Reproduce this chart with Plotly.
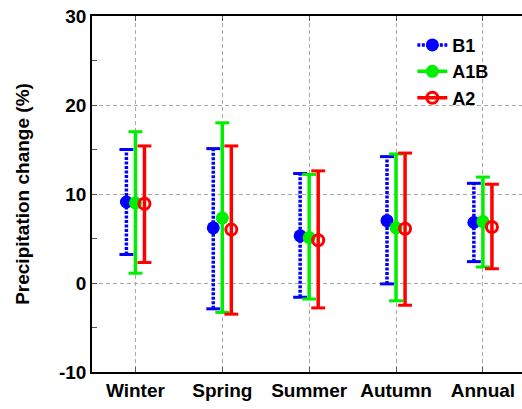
import plotly.graph_objects as go

categories = ["Winter", "Spring", "Summer", "Autumn", "Annual"]

b1_mid = [9.1, 6.2, 5.3, 7.0, 6.8]
b1_low = [3.2, -2.9, -1.6, -0.1, 2.4]
b1_high = [15.0, 15.1, 12.3, 14.2, 11.2]

a1b_mid = [9.0, 7.3, 5.1, 6.2, 6.9]
a1b_low = [1.1, -3.3, -1.8, -2.0, 1.8]
a1b_high = [17.0, 18.0, 12.2, 14.5, 11.9]

a2_mid = [8.9, 6.0, 4.8, 6.1, 6.3]
a2_low = [2.3, -3.5, -2.8, -2.5, 1.6]
a2_high = [15.4, 15.4, 12.6, 14.6, 11.1]

series = [
    dict(name="B1", mid=b1_mid, low=b1_low, high=b1_high, color="#0000ff",
         dash="3px,1.5px", offset=-0.104, symbol="circle", msize=13, fill=True),
    dict(name="A1B", mid=a1b_mid, low=a1b_low, high=a1b_high, color="#00ee00",
         dash="solid", offset=0.0, symbol="circle", msize=13, fill=True),
    dict(name="A2", mid=a2_mid, low=a2_low, high=a2_high, color="#ff0000",
         dash="solid", offset=0.104, symbol="circle-open", msize=11, fill=False),
]

cap = 0.08
fig = go.Figure()
for s in series:
    xs = [i + s["offset"] for i in range(len(categories))]
    vx, vy, cx, cy = [], [], [], []
    for x, lo, hi in zip(xs, s["low"], s["high"]):
        vx += [x, x, None]
        vy += [lo, hi, None]
        cx += [x - cap, x + cap, None, x - cap, x + cap, None]
        cy += [lo, lo, None, hi, hi, None]
    fig.add_trace(go.Scatter(x=vx, y=vy, mode="lines", showlegend=False,
                             line=dict(color=s["color"], width=3.5, dash=s["dash"]),
                             hoverinfo="skip"))
    fig.add_trace(go.Scatter(x=cx, y=cy, mode="lines", showlegend=False,
                             line=dict(color=s["color"], width=3),
                             hoverinfo="skip"))
    mx, my = [], []
    for x, m in zip(xs, s["mid"]):
        mx += [x, None]
        my += [m, None]
    marker = dict(symbol=s["symbol"], size=s["msize"], color=s["color"])
    if not s["fill"]:
        marker["line"] = dict(color=s["color"], width=3)
    fig.add_trace(go.Scatter(x=mx, y=my, mode="lines+markers",
                             name="<b>%s</b>" % s["name"],
                             connectgaps=False, marker=marker,
                             line=dict(color=s["color"], width=3.5, dash=s["dash"])))

font_family = "Liberation Sans, Arial, sans-serif"
grid_dash = "4px,3px"
fig.update_layout(
    width=522, height=409,
    margin=dict(l=92, r=0, t=16, b=37),
    paper_bgcolor="white", plot_bgcolor="white",
    font=dict(family=font_family, size=18, color="black"),
    legend=dict(x=0.745, y=0.97, xanchor="left", yanchor="top",
                bgcolor="rgba(0,0,0,0)", font=dict(size=18, family=font_family),
                itemwidth=30, tracegroupgap=0),
    xaxis=dict(
        range=[-0.5, 4.45], tickmode="array",
        tickvals=list(range(len(categories))),
        ticktext=["<b>%s</b>" % c for c in categories],
        showline=True, linecolor="black", linewidth=1.5, mirror="ticks",
        ticks="inside", ticklen=5, tickcolor="#555",
        showgrid=True, gridcolor="#a8a8a8", griddash=grid_dash, gridwidth=1,
        zeroline=False, tickfont=dict(size=19), automargin=False,
    ),
    yaxis=dict(
        range=[-10, 30], tickmode="array", tickvals=[-10, 0, 10, 20, 30],
        ticktext=["<b>-10</b>", "<b>0</b>", "<b>10</b>", "<b>20</b>", "<b>30</b>"],
        showline=True, linecolor="black", linewidth=1.5,
        ticks="inside", ticklen=5, tickcolor="#555",
        minor=dict(tickvals=[-5, 5, 15, 25], ticks="inside", ticklen=5, tickcolor="#555", showgrid=False),
        showgrid=True, gridcolor="#a8a8a8", griddash=grid_dash, gridwidth=1,
        zeroline=False, tickfont=dict(size=19), automargin=False,
        ticklabeloverflow="allow",
        title=dict(text="<b>Precipitation change (%)</b>", font=dict(size=19), standoff=24),
    ),
)

fig.write_html("out.html", config={"displayModeBar": False},
               post_script="document.body.style.margin='0px';")
